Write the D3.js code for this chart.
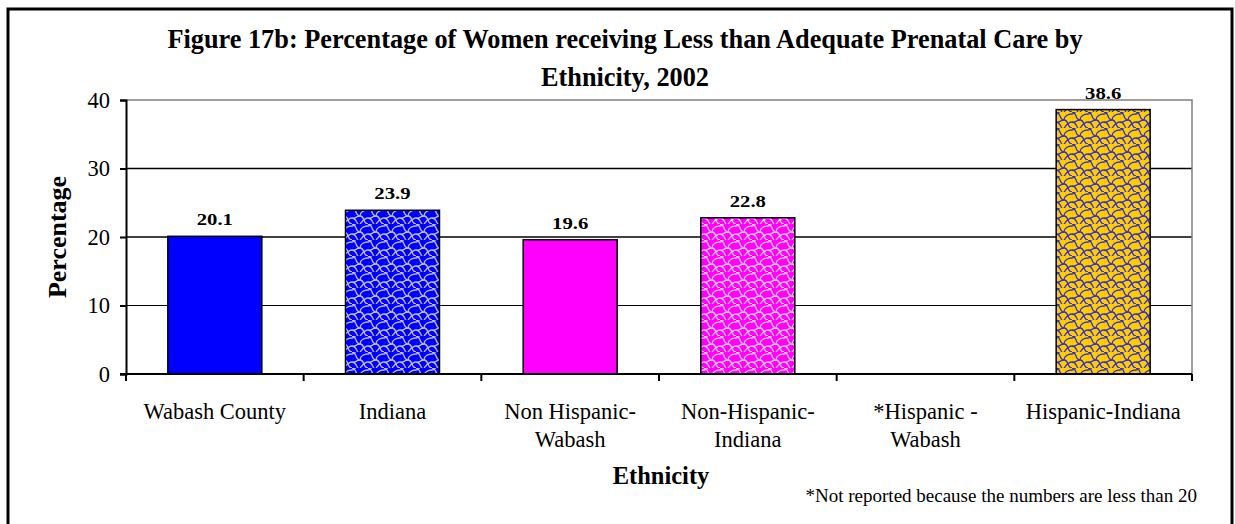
<!DOCTYPE html>
<html><head><meta charset="utf-8">
<script src="https://cdn.jsdelivr.net/npm/d3@7"></script>
<style>
html,body{margin:0;padding:0;background:#fff;}
svg{display:block;}
text{font-family:"Liberation Serif","Times New Roman",serif;fill:#000;}
</style></head>
<body>
<svg id="chart" width="1235" height="524"></svg>
<script>
const categories = ["Wabash County","Indiana","Non Hispanic-Wabash","Non-Hispanic-Indiana","*Hispanic - Wabash","Hispanic-Indiana"];
const tickLabels = [["Wabash County"],["Indiana"],["Non Hispanic-","Wabash"],["Non-Hispanic-","Indiana"],["*Hispanic  -","Wabash"],["Hispanic-Indiana"]];
const values = [20.1, 23.9, 19.6, 22.8, null, 38.6];
const yTicks = [0,10,20,30,40];
const fills = ["solid-blue","pat-blue","solid-magenta","pat-magenta",null,"pat-gold"];
const titleLines = ["Figure 17b: Percentage of Women receiving Less than Adequate Prenatal Care by","Ethnicity, 2002"];
const xTitle = "Ethnicity", yTitle = "Percentage";
const footnote = "*Not reported because the numbers are less than 20";

(function(){
const svg = d3.select("#chart");
const defs = svg.append("defs");
function makePattern(id, bg, fg){
  const p = defs.append("pattern").attr("id",id).attr("patternUnits","userSpaceOnUse")
    .attr("width",16).attr("height",16);
  p.append("rect").attr("width",16).attr("height",16).attr("fill",bg);
  const g = p.append("g").attr("fill","none").attr("stroke",fg).attr("stroke-width",1.3);
  g.append("path").attr("d","M0,0 C5,0 3,8 8,8 C13,8 11,16 16,16");
  g.append("path").attr("d","M8,8 C8,4 12,2 16,2");
  g.append("path").attr("d","M0,2 C3,2 3,0 4,-1");
  g.append("path").attr("d","M0,10 C4,10 4,14 6,16");
  g.append("path").attr("d","M8,8 C4,8 2,12 0,10");
  g.append("path").attr("d","M16,10 C12,10 10,14 8,16");
}
makePattern("pat-blue","#0000ff","#c0c0ff");
makePattern("pat-magenta","#ff00ff","#ffc8ff");
makePattern("pat-gold","#ffcc00","#3030d0");
const fillColor = {"solid-blue":"#0000ff","solid-magenta":"#ff00ff","pat-blue":"url(#pat-blue)","pat-magenta":"url(#pat-magenta)","pat-gold":"url(#pat-gold)"};

// outer frame
svg.append("rect").attr("x",8).attr("y",9).attr("width",1224).attr("height",530)
  .attr("fill","none").attr("stroke","#000").attr("stroke-width",3);

const pL=126, pR=1192, pT=100, pB=374;
const x = d3.scaleBand().domain(categories).range([pL,pR]).paddingInner(0.471).paddingOuter(0.2355);
const y = d3.scaleLinear().domain([0,40]).range([pB,pT]);

// gridlines
svg.append("g").selectAll("line").data(yTicks.filter(t=>t>0 && t<40)).join("line")
  .attr("x1",pL).attr("x2",pR).attr("y1",d=>y(d)).attr("y2",d=>y(d))
  .attr("stroke","#000").attr("stroke-width",d=>d===10?1:1.5);
// plot border top/right gray
svg.append("path").attr("d",`M${pL},${y(40)} H${pR} V${pB}`)
  .attr("fill","none").attr("stroke","#808080").attr("stroke-width",1.5);

// bars
const data = categories.map((c,i)=>({c, v:values[i], f:fills[i]})).filter(d=>d.v!=null);
svg.append("g").selectAll("rect").data(data).join("rect")
  .attr("x",d=>x(d.c)).attr("width",x.bandwidth())
  .attr("y",d=>y(d.v)).attr("height",d=>y(0)-y(d.v))
  .attr("fill",d=>fillColor[d.f]).attr("stroke","#000").attr("stroke-width",1.5);
svg.append("g").selectAll("text").data(data).join("text")
  .attr("transform",d=>`translate(${x(d.c)+x.bandwidth()/2},${y(d.v)-11}) scale(1.22,1)`)
  .attr("text-anchor","middle").attr("font-weight","bold").attr("font-size",17)
  .text(d=>d.v.toFixed(1));

// y axis
const yAxis = svg.append("g").attr("transform",`translate(${pL},0)`)
  .call(d3.axisLeft(y).tickValues(yTicks).tickSize(6).tickPadding(10).tickFormat(d3.format("d")));
yAxis.select(".domain").attr("stroke","#000").attr("stroke-width",2);
yAxis.selectAll(".tick line").attr("stroke","#000").attr("stroke-width",2);
yAxis.selectAll(".tick text").attr("font-size",22.5).attr("fill","#000");

// x axis
const bounds = [pL].concat(categories.map(c=>x(c)+x.bandwidth()+x.step()*x.paddingInner()/2));
const xAxisG = svg.append("g");
xAxisG.append("line").attr("x1",pL-6).attr("x2",pR).attr("y1",pB).attr("y2",pB)
  .attr("stroke","#000").attr("stroke-width",2);
xAxisG.selectAll("line.tk").data(bounds).join("line").attr("class","tk")
  .attr("x1",d=>d).attr("x2",d=>d).attr("y1",pB).attr("y2",pB+7)
  .attr("stroke","#000").attr("stroke-width",2);
const lab = svg.append("g").selectAll("text").data(categories).join("text")
  .attr("text-anchor","middle").attr("font-size",22.5)
  .attr("transform",c=>`translate(${x(c)+x.bandwidth()/2},419)`);
lab.selectAll("tspan").data((c,i)=>tickLabels[i]).join("tspan")
  .attr("x",0).attr("dy",(d,i)=>i===0?0:28).text(d=>d);

// titles
svg.append("text").attr("x",625).attr("y",48).attr("text-anchor","middle")
  .attr("font-size",26.3).attr("font-weight","bold")
  .selectAll("tspan").data(titleLines).join("tspan").attr("x",625).attr("dy",(d,i)=>i===0?0:38).text(d=>d);
svg.append("text").attr("x",661).attr("y",484).attr("text-anchor","middle")
  .attr("font-size",24.5).attr("font-weight","bold").text(xTitle);
svg.append("text").attr("transform",`translate(66,${(pT+pB)/2}) rotate(-90)`)
  .attr("text-anchor","middle").attr("font-size",26).attr("font-weight","bold").text(yTitle);
svg.append("text").attr("x",1197).attr("y",502).attr("text-anchor","end")
  .attr("font-size",19).text(footnote);
})();
</script>
</body></html>
